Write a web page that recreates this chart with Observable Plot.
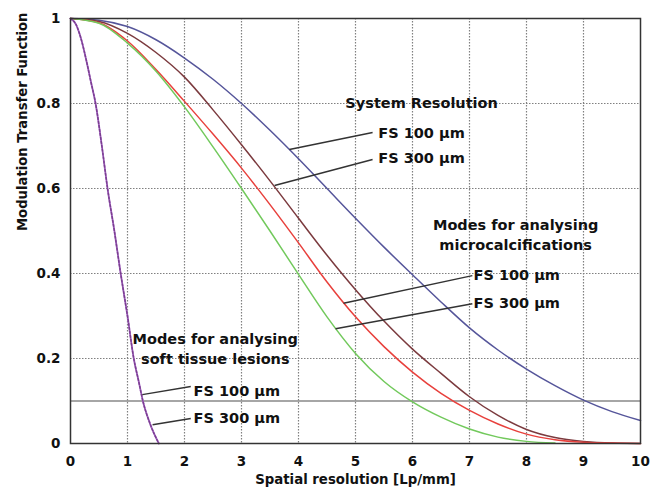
<!DOCTYPE html>
<html><head><meta charset="utf-8">
<script src="https://cdn.jsdelivr.net/npm/d3@7"></script>
<script src="https://cdn.jsdelivr.net/npm/@observablehq/plot@0.6"></script>
<style>body{margin:0;background:#fff}</style>
</head><body><div id="chart"></div>
<script>
// Spatial frequency samples (Lp/mm)
const freq = [0,0.5,1,1.5,2,2.5,3,3.5,4,4.5,5,5.5,6,6.5,7,7.5,8,8.5,9,9.5,10];
// System resolution
const sysFS100 = [1,0.996,0.981,0.950,0.907,0.857,0.800,0.737,0.670,0.600,0.530,0.462,0.397,0.333,0.272,0.220,0.175,0.136,0.102,0.075,0.054];
const sysFS300 = [1,0.993,0.965,0.920,0.862,0.785,0.703,0.618,0.530,0.443,0.362,0.288,0.222,0.165,0.110,0.066,0.033,0.014,0.005,0.001,0];
// Modes for analysing microcalcifications
const microFS100 = [1,0.990,0.947,0.880,0.805,0.728,0.648,0.562,0.472,0.380,0.298,0.228,0.168,0.118,0.078,0.046,0.022,0.009,0.003,0.001,0];
const microFS300 = [1,0.989,0.942,0.876,0.792,0.698,0.600,0.500,0.398,0.298,0.212,0.146,0.098,0.062,0.034,0.015,0.005,0.001,0,0,0];
// Modes for analysing soft tissue lesions
const softFreq  = [0,0.1,0.19,0.28,0.36,0.44,0.55,0.65,0.77,0.88,1.0,1.11,1.2,1.27,1.4,1.55];
const softFS100 = [1,0.985,0.95,0.9,0.85,0.8,0.7,0.6,0.5,0.4,0.3,0.2,0.144,0.1,0.045,0];
const softFS300 = [1,0.985,0.95,0.9,0.85,0.8,0.7,0.6,0.5,0.4,0.3,0.2,0.144,0.1,0.045,0];
// Axes
const xTicks = [0,1,2,3,4,5,6,7,8,9,10];
const yTicks = [0,0.2,0.4,0.6,0.8,1];
const xGridLines = [1,2,3,4,5,6,7,8,9];
const yGridLines = [0.2,0.4,0.6,0.8];
const threshold = [0.1];
// Annotations (data coordinates)
const titleText = ["System Resolution","Modes for analysing","microcalcifications","Modes for analysing","soft tissue lesions"];
const titleX = [6.16,7.81,7.81,2.54,2.54];
const titleY = [0.80,0.513,0.466,0.245,0.198];
const labelText = ["FS 100 µm","FS 300 µm","FS 100 µm","FS 300 µm","FS 100 µm","FS 300 µm"];
const labelX = [5.40,5.40,7.07,7.07,2.16,2.16];
const labelY = [0.729,0.671,0.395,0.329,0.122,0.059];
const leaderX1 = [3.84,3.58,4.79,4.65,1.26,1.44];
const leaderY1 = [0.692,0.607,0.330,0.270,0.115,0.044];
const leaderX2 = [5.30,5.30,7.05,7.05,2.11,2.11];
const leaderY2 = [0.732,0.668,0.395,0.329,0.134,0.059];

const rows = (name, xs, ys) => xs.map((x, i) => ({name, x, y: ys[i]}));
const curves = [
  ...rows("sys100", freq, sysFS100),
  ...rows("sys300", freq, sysFS300),
  ...rows("micro100", freq, microFS100),
  ...rows("micro300", freq.slice(0, 18), microFS300.slice(0, 18))
];
const soft100 = rows("soft100", softFreq, softFS100);
const soft300 = rows("soft300", softFreq, softFS300);
const titles = titleText.map((t, i) => ({t, x: titleX[i], y: titleY[i]}));
const labels = labelText.map((t, i) => ({t, x: labelX[i], y: labelY[i]}));
const leaders = leaderX1.map((x1, i) => ({x1, y1: leaderY1[i], x2: leaderX2[i], y2: leaderY2[i]}));

const font = "DejaVu Sans";
const chart = Plot.plot({
  width: 664, height: 494,
  marginLeft: 70, marginRight: 24, marginTop: 18, marginBottom: 51,
  style: {fontFamily: font, fontSize: "13.5px", fontWeight: "bold", color: "#111", background: "#fff"},
  x: {domain: [0, 10]},
  y: {domain: [0, 1]},
  color: {domain: ["sys100","sys300","micro100","micro300"], range: ["#55559a","#7b3a3e","#e8403c","#72c95c"]},
  marks: [
    Plot.ruleX(xGridLines, {stroke: "#808080", strokeWidth: 1.2, strokeDasharray: "1.5,1.5"}),
    Plot.ruleY(yGridLines, {stroke: "#808080", strokeWidth: 1.2, strokeDasharray: "1.5,1.5"}),
    Plot.ruleY(threshold, {stroke: "#888", strokeWidth: 1.5}),
    Plot.line(curves, {x: "x", y: "y", z: "name", stroke: "name", strokeWidth: 1.5, curve: "monotone-x"}),
    Plot.line(soft100, {x: "x", y: "y", stroke: "#a868c8", strokeWidth: 1.8, curve: "monotone-x"}),
    Plot.line(soft300, {x: "x", y: "y", stroke: "#7a3f8f", strokeWidth: 1.5, strokeDasharray: "2,2", curve: "monotone-x"}),
    Plot.link(leaders, {x1: "x1", y1: "y1", x2: "x2", y2: "y2", stroke: "#333", strokeWidth: 1.5}),
    Plot.text(titles, {x: "x", y: "y", text: "t", fontSize: 14.5, fontWeight: "bold", fill: "#111", textAnchor: "middle"}),
    Plot.text(labels, {x: "x", y: "y", text: "t", fontSize: 14.5, fontWeight: "bold", fill: "#111", textAnchor: "start"}),
    Plot.frame({stroke: "#333", strokeWidth: 1.5}),
    Plot.axisX(xTicks, {tickSize: 0, tickPadding: 13, fontSize: 13.5, fontWeight: "bold", tickFormat: d => String(d), label: null}),
    Plot.axisY(yTicks, {tickSize: 0, tickPadding: 10, fontSize: 13.5, fontWeight: "bold", tickFormat: d => String(d), label: null}),
    Plot.text(["Spatial resolution [Lp/mm]"], {frameAnchor: "bottom", dy: 40, fontSize: 13.3, fontWeight: "bold", fill: "#111"}),
    Plot.text(["Modulation Transfer Function"], {frameAnchor: "left", dx: -48, rotate: -90, fontSize: 13.2, fontWeight: "bold", fill: "#111"})
  ]
});
document.getElementById("chart").appendChild(chart);
</script>
</body></html>
